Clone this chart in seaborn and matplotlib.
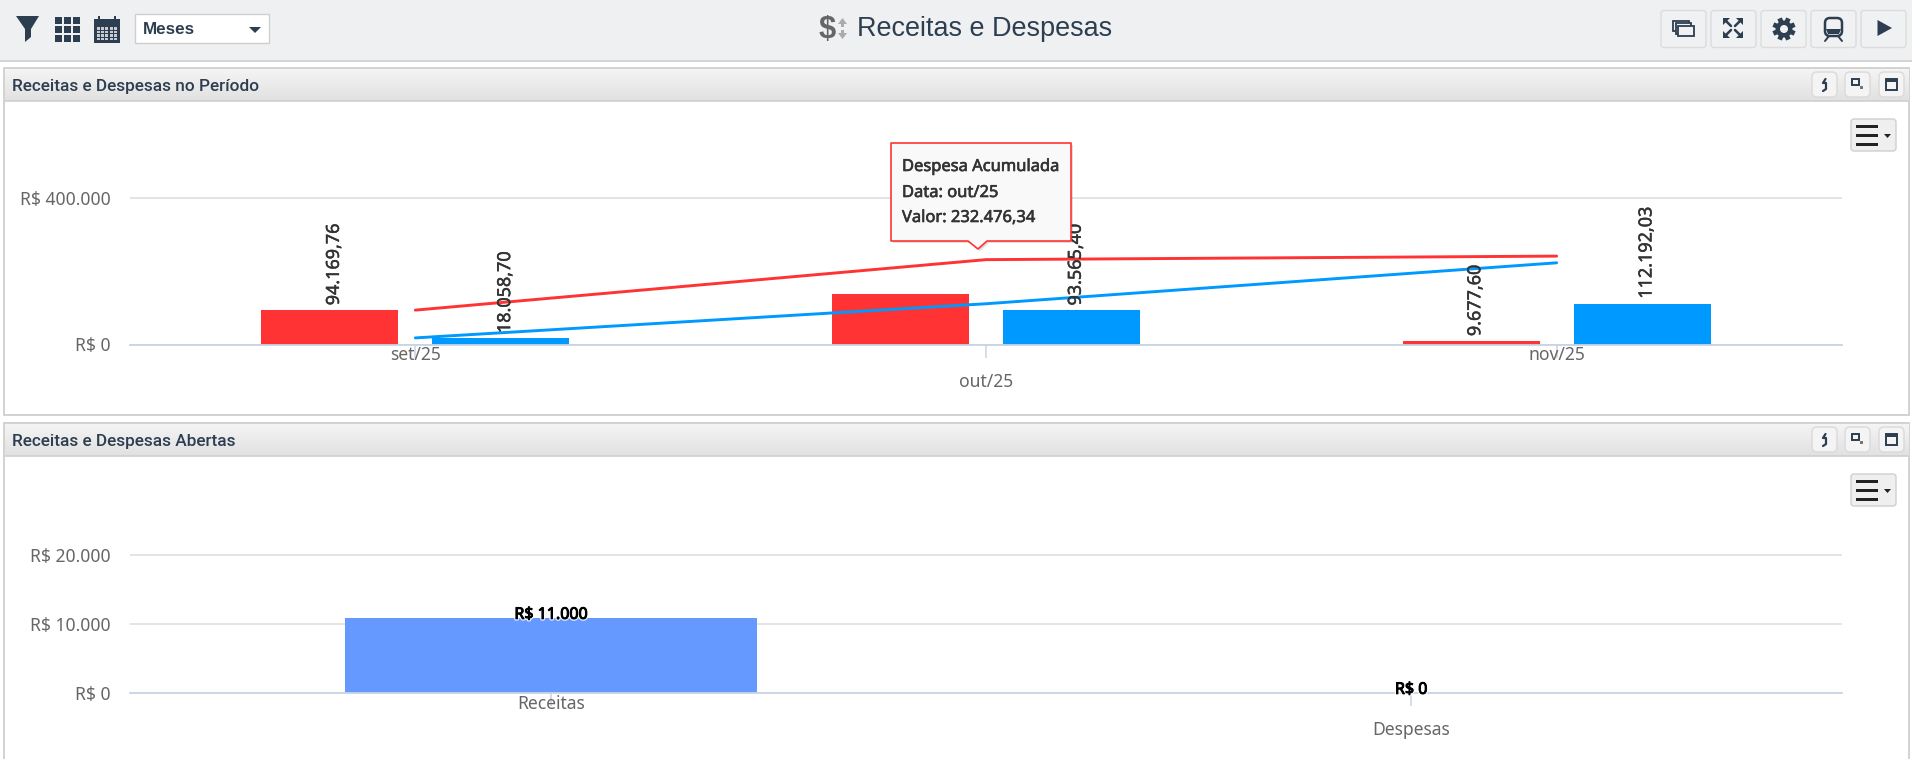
import numpy as np
import pandas as pd
import matplotlib
matplotlib.use("Agg")
import matplotlib.pyplot as plt
import matplotlib.patheffects as pe
from matplotlib.colors import LinearSegmentedColormap
from matplotlib.patches import Rectangle, FancyBboxPatch, Polygon, Circle
import seaborn as sns

# ---------- data ----------
periodos = ["set/25", "out/25", "nov/25"]
despesas = [94169.76, 138306.58, 9677.60]
receitas = [18058.70, 93565.40, 112192.03]
despesa_acum = [94169.76, 232476.34, 242153.94]
receita_acum = [18058.70, 111624.10, 223816.13]
rotulos_despesa = ["94.169,76", "", "9.677,60"]
rotulos_receita = ["18.058,70", "93.565,40", "112.192,03"]
ticks_periodo = [0, 400000]
ticks_periodo_txt = ["R$ 0", "R$ 400.000"]

abertas_cat = ["Receitas", "Despesas"]
abertas_val = [10870, 0]
abertas_txt = ["R$ 11.000", "R$ 0"]
ticks_abertas = [0, 10000, 20000]
ticks_abertas_txt = ["R$ 0", "R$ 10.000", "R$ 20.000"]

VERM, AZUL, AZUL2 = "#FF3333", "#0099FF", "#6699FF"
NAVY = "#2C3E50"
GRID, AXL, TICKC = "#DDDDE0", "#C8D4E4", "#666666"
W, H = 1912, 759
px = 0.72  # font points per pixel at dpi 100
TICK_FS = 17.5 * px

sns.set_theme(style="white")
plt.rcParams["font.family"] = ["Noto Sans", "DejaVu Sans"]
fig = plt.figure(figsize=(W / 100, H / 100), dpi=100, facecolor="white")


def overlay(z):
    a = fig.add_axes([0, 0, 1, 1], zorder=z)
    a.set_xlim(0, W)
    a.set_ylim(H, 0)
    a.axis("off")
    a.patch.set_alpha(0)
    return a


def chart_axes(top, bottom):
    x0, x1 = 130, 1842
    a = fig.add_axes([x0 / W, 1 - bottom / H, (x1 - x0) / W, (bottom - top) / H], zorder=5)
    a.patch.set_alpha(0)
    return a


bg = overlay(0)
fg = overlay(20)


def box(a, x0, y0, x1, y1, fc, ec="none", lw=1, r=0, z=1):
    if r:
        p = FancyBboxPatch((x0, y0), x1 - x0, y1 - y0, boxstyle=f"round,pad=0,rounding_size={r}",
                           fc=fc, ec=ec, lw=lw, zorder=z)
    else:
        p = Rectangle((x0, y0), x1 - x0, y1 - y0, fc=fc, ec=ec, lw=lw, zorder=z)
    a.add_patch(p)


def poly(a, pts, fc=NAVY, z=3):
    a.add_patch(Polygon(pts, closed=True, fc=fc, ec="none", zorder=z))


def heavier(width, color):
    return [pe.withStroke(linewidth=width, foreground=color)]


# ---------- top bar ----------
box(bg, 0, 0, W, 60, "#EFF0F2")
box(bg, 0, 60, W, 61.5, "#D4D4D4", z=2)
poly(bg, [(16, 16), (39, 16), (31, 29), (31, 37), (25, 42), (25, 29)])
for i in range(3):
    for j in range(3):
        box(bg, 55 + i * 9, 17 + j * 9, 62 + i * 9, 24 + j * 9, NAVY, z=3)
box(bg, 94, 19, 120, 43, NAVY, z=3)
for i in range(5):
    for j in range(4):
        box(bg, 97 + i * 4.2, 27 + j * 3.6, 100 + i * 4.2, 29.6 + j * 3.6, "#C8CCD2", z=4)
box(bg, 98, 16, 100, 20, NAVY, z=3)
box(bg, 114, 16, 116, 20, NAVY, z=3)
box(bg, 135.5, 13.5, 269, 43, "white", ec="#CFCFCF", lw=1, z=3)
bg.text(143, 29.5, "Meses", fontsize=17 * px, fontweight="bold", color=NAVY,
        family="Liberation Sans", va="center", ha="left", zorder=4)
poly(bg, [(249, 27), (261, 27), (255, 33)], z=4)

bg.text(819, 30, "$", fontsize=31 * px, fontweight="bold", color="#666666",
        family="Liberation Sans", va="center", ha="left", zorder=3)
poly(bg, [(842.5, 18), (847, 24), (844, 24), (844, 27), (841, 27), (841, 24), (838, 24)], fc="#ABABAB")
poly(bg, [(842.5, 39), (847, 33), (844, 33), (844, 30), (841, 30), (841, 33), (838, 33)], fc="#ABABAB")
bg.text(857, 29, "Receitas e Despesas", fontsize=27 * px, color=NAVY,
        family="Liberation Sans", va="center", ha="left", zorder=3)

for x in (1661, 1711, 1761, 1811, 1861):
    box(bg, x, 10.5, x + 45, 47.5, "#F0F1F3", ec="#DCDCDC", lw=1, r=3, z=3)
# window stack
for d in (0, 2.5, 5):
    box(bg, 1673.5 + d, 20.5 + d, 1689 + d, 31 + d, "#F0F1F3", ec=NAVY, lw=1.3, z=4 + d)
# fullscreen
for cx, cy, s, t in ((1723, 18, 1, 1), (1743, 18, -1, 1), (1723, 38, 1, -1), (1743, 38, -1, -1)):
    poly(bg, [(cx, cy), (cx + 7 * s, cy), (cx, cy + 7 * t)], z=4)
    bg.plot([cx + 2 * s, cx + 8 * s], [cy + 2 * t, cy + 8 * t], color=NAVY, lw=1.8, zorder=4)
# gear
bg.add_patch(Circle((1784, 29), 8.5, fc=NAVY, ec="none", zorder=4))
for k in range(8):
    ang = k * np.pi / 4 + np.pi / 8
    ca, sa = np.cos(ang), np.sin(ang)
    poly(bg, [(1784 + 6 * ca - 2.4 * sa, 29 + 6 * sa + 2.4 * ca), (1784 + 11.5 * ca - 2.4 * sa, 29 + 11.5 * sa + 2.4 * ca),
              (1784 + 11.5 * ca + 2.4 * sa, 29 + 11.5 * sa - 2.4 * ca), (1784 + 6 * ca + 2.4 * sa, 29 + 6 * sa - 2.4 * ca)], z=4)
bg.add_patch(Circle((1784, 29), 4, fc="#F0F1F3", ec="none", zorder=5))
# train
box(bg, 1825, 18, 1842, 36, "#F0F1F3", ec=NAVY, lw=1.8, r=5, z=4)
poly(bg, [(1826, 29), (1841, 29), (1839, 34), (1828, 34)], z=5)
bg.plot([1829, 1825], [36, 41], color=NAVY, lw=1.4, zorder=4)
bg.plot([1838, 1842], [36, 41], color=NAVY, lw=1.4, zorder=4)
# play
poly(bg, [(1877.5, 20), (1892, 28), (1877.5, 36)], z=4)

# ---------- panels ----------
grad = LinearSegmentedColormap.from_list("hdr", ["#F5F4F5", "#E1E1E1"])
for top, title, bottom in ((68, "Receitas e Despesas no Período", 415), (423, "Receitas e Despesas Abertas", 780)):
    box(bg, 4.5, top, 1909, bottom, "white", ec="#CFCFCF", lw=1.3, z=1)
    bg.imshow(np.linspace(0, 1, 32)[:, None], cmap=grad, aspect="auto",
              extent=(5, 1908.5, top + 33, top + 1), zorder=2)
    bg.plot([5, 1908.5], [top + 33, top + 33], color="#CFCFCF", lw=1.2, zorder=3)
    bg.text(12, top + 18.5, title, fontsize=17.3 * px, color=NAVY, family="Roboto",
            fontweight="medium", va="center", ha="left", zorder=4)
    for x in (1812, 1845, 1879):
        box(bg, x, top + 4, x + 25, top + 29, "#F4F4F4", ec="#DADADA", lw=1, r=5, z=4)
    # restore arrow
    bg.plot([1825.5, 1823, 1826, 1826, 1823], [top + 11, top + 15, top + 15, top + 21, top + 23],
            color=NAVY, lw=1.6, zorder=5)
    # minimise
    box(bg, 1852, top + 11, 1859, top + 17, "#F4F4F4", ec=NAVY, lw=1.4, z=5)
    box(bg, 1860, top + 18, 1863, top + 21, "#777777", z=5)
    # maximise
    box(bg, 1886, top + 11, 1897, top + 22, "#F4F4F4", ec=NAVY, lw=1.4, z=5)
    box(bg, 1886, top + 11, 1897, top + 14, NAVY, z=6)
    # export menu
    mtop = top + 51
    box(bg, 1851, mtop, 1896, mtop + 32, "#EFEFEF", ec="#CFCFCF", lw=1, r=3, z=4)
    for d in (7, 16, 25):
        box(bg, 1856, mtop + d - 1.5, 1878, mtop + d + 1.5, "#222222", z=5)
    poly(bg, [(1884, mtop + 15), (1891, mtop + 15), (1887.5, mtop + 19)], fc="#222222", z=5)


def style_axis(a, ticks, labels):
    a.set_yticks(ticks)
    a.set_yticklabels(labels)
    a.grid(axis="y", color=GRID, lw=1.1)
    a.set_axisbelow(True)
    a.set_xlabel("")
    a.set_ylabel("")
    for s in ("top", "left", "right"):
        a.spines[s].set_visible(False)
    a.spines["bottom"].set_color(AXL)
    a.spines["bottom"].set_linewidth(1.3)
    a.tick_params(axis="y", length=0, pad=14, labelsize=TICK_FS, labelcolor=TICKC)
    a.tick_params(axis="x", bottom=True, length=13 * px, width=1.1, color=AXL,
                  labelsize=TICK_FS, labelcolor=TICKC)


def stagger(a):
    for i, t in enumerate(a.xaxis.get_major_ticks()):
        t.set_pad(-8 if i % 2 == 0 else 11)


# ---------- chart 1 ----------
ax1 = chart_axes(120.5, 344.5)
df = pd.DataFrame({
    "periodo": periodos * 2,
    "tipo": ["Despesa"] * 3 + ["Receita"] * 3,
    "valor": despesas + receitas,
})
sns.barplot(data=df, x="periodo", y="valor", hue="tipo", order=periodos,
            palette={"Despesa": VERM, "Receita": AZUL}, width=0.6, gap=0.2,
            saturation=1, legend=False, ax=ax1, linewidth=0)
pos = list(range(len(periodos)))
acum = pd.DataFrame({"pos": pos * 2,
                     "tipo": ["Despesa"] * 3 + ["Receita"] * 3,
                     "valor": despesa_acum + receita_acum})
sns.lineplot(data=acum, x="pos", y="valor", hue="tipo",
             palette={"Despesa": VERM, "Receita": AZUL}, lw=2.1, legend=False, ax=ax1, zorder=6)
ax1.set_xlim(-0.5, 2.5)
ax1.set_ylim(0, 400000 * 224 / 146)
style_axis(ax1, ticks_periodo, ticks_periodo_txt)
ax1.set_xticks(pos)
ax1.set_xticklabels(periodos)
stagger(ax1)
for i, (vd, vr) in enumerate(zip(despesas, receitas)):
    for off, v, lab in ((-0.15, vd, rotulos_despesa[i]), (0.15, vr, rotulos_receita[i])):
        if lab:
            ax1.annotate(lab, (i + off, v), xytext=(3, 3.5), textcoords="offset points",
                         rotation=90, ha="center", va="bottom", fontsize=18 * px,
                         color="#333333", zorder=7, annotation_clip=False,
                         path_effects=heavier(0.35, "#333333"))

# ---------- chart 2 ----------
ax2 = chart_axes(470, 693)
df2 = pd.DataFrame({"categoria": abertas_cat, "valor": abertas_val})
sns.barplot(data=df2, x="categoria", y="valor", color=AZUL2, width=0.479, saturation=1, ax=ax2, linewidth=0)
ax2.set_xlim(-0.4895, 1.501)
ax2.set_ylim(0, 10000 * (693 - 470) / 69)
style_axis(ax2, ticks_abertas, ticks_abertas_txt)
ax2.set_xticks(range(len(abertas_cat)))
ax2.set_xticklabels(abertas_cat)
stagger(ax2)
for i, (v, lab) in enumerate(zip(abertas_val, abertas_txt)):
    ax2.annotate(lab, (i, v), xytext=(0, -3.5), textcoords="offset points", ha="center", va="bottom",
                 fontsize=16 * px, color="black", zorder=7, annotation_clip=False,
                 path_effects=[pe.withStroke(linewidth=2.6, foreground="#FFFFFFCC"),
                               pe.withStroke(linewidth=0.7, foreground="black")])

# ---------- tooltip ----------
shape = [(891, 143), (1071, 143), (1071, 241), (987, 241), (978, 249), (968, 241), (891, 241)]
fg.add_patch(Polygon([(x + 2, y + 2) for x, y in shape], closed=True, fc="#00000022", ec="none", zorder=1))
fg.add_patch(Polygon(shape, closed=True, fc="#F9F9F9", ec=VERM, lw=1.2, zorder=2, joinstyle="round"))
for y, s in ((167, "Despesa Acumulada"), (193, "Data: out/25"), (218, "Valor: 232.476,34")):
    fg.text(902, y, s, fontsize=16.5 * px, color="#333333", va="center", ha="left", zorder=3,
            path_effects=heavier(0.45, "#333333"))

fig.savefig("out.png", dpi=100)
